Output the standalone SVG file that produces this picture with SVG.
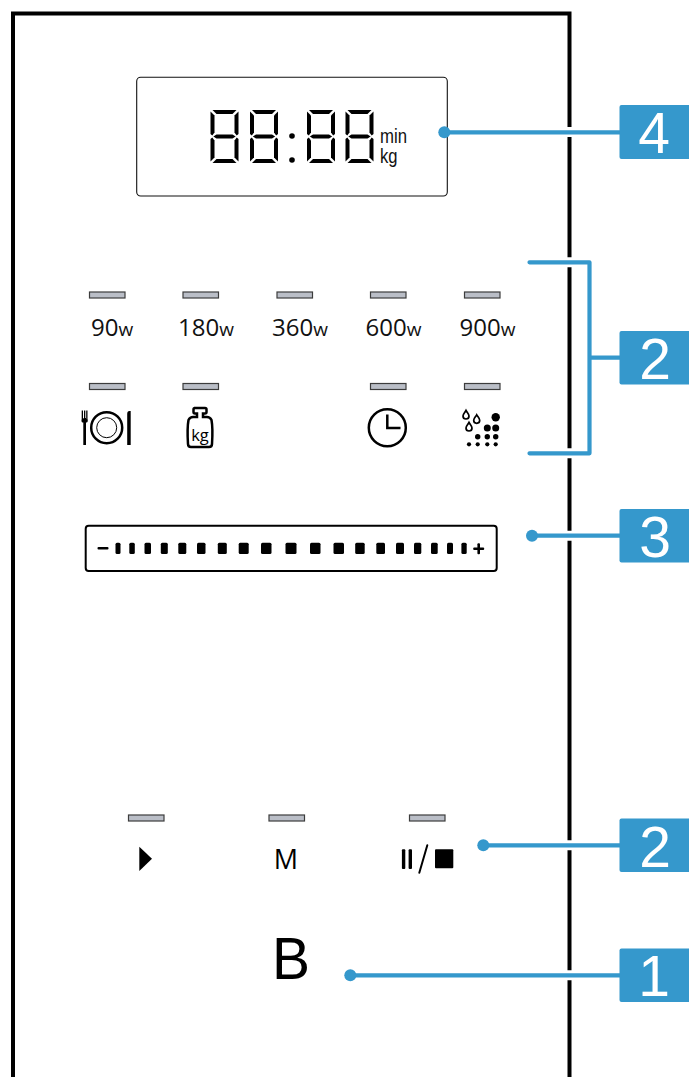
<svg xmlns="http://www.w3.org/2000/svg" width="689" height="1077" viewBox="0 0 689 1077">
<style>
.led{fill:#babec7;stroke:#3c3c3c;stroke-width:1.2}
.lab{font-family:"Open Sans",sans-serif;font-size:24px;fill:#111}
.w{font-size:19px}
.blue{fill:none;stroke:#3598cc;stroke-width:4.2;stroke-linecap:round;stroke-linejoin:round}
.halo{fill:none;stroke:#fff;stroke-width:10}
.dot{fill:#3598cc}
.badge{fill:#3598cc}
.num{font-family:"Liberation Sans",Arial,sans-serif;font-size:57px;fill:#fff;text-anchor:middle}
.tick{fill:#000}
.unit{font-family:"Liberation Sans",Arial,sans-serif;font-size:20px;fill:#111}
.ic{fill:none;stroke:#000;stroke-width:2.5}
.drop{fill:none;stroke:#000;stroke-width:1.7}
</style>
<defs>
<g id="seg">
<polygon points="2,0 26,0 22,4 6,4"/>
<polygon points="0,1.500 4,5.500 4,22.500 1.800,25.500 0,24"/>
<polygon points="28,1.500 24,5.500 24,22.500 26.200,25.500 28,24"/>
<polygon points="2.800,26.500 6,24.500 22,24.500 25.200,26.500 22,28.500 6,28.500"/>
<polygon points="0,29 1.800,27.500 4,30.500 4,47.500 0,51.500"/>
<polygon points="28,29 26.200,27.500 24,30.500 24,47.500 28,51.500"/>
<polygon points="6,49 22,49 26,53 2,53"/>
</g>
</defs>
<g id="panel">
<path d="M13 1077V13.500H569.500V1077" fill="none" stroke="#000" stroke-width="4"/>
</g>
<g id="display">
<rect x="136.700" y="77.300" width="310.600" height="118.700" rx="4" fill="#fff" stroke="#111" stroke-width="1.100"/>
<use href="#seg" x="210.500" y="110"/>
<use href="#seg" x="250" y="110"/>
<circle cx="292" cy="136" r="2.800"/>
<circle cx="292" cy="160" r="2.800"/>
<use href="#seg" x="307" y="110"/>
<use href="#seg" x="345.500" y="110"/>
<text class="unit" x="380" y="142.700" textLength="27" lengthAdjust="spacingAndGlyphs">min</text>
<text class="unit" x="380" y="163" textLength="17.500" lengthAdjust="spacingAndGlyphs">kg</text>
</g>
<g id="power-row">
<rect class="led" x="89.500" y="292" width="35.500" height="6"/>
<rect class="led" x="183" y="292" width="35.500" height="6"/>
<rect class="led" x="277" y="292" width="35.500" height="6"/>
<rect class="led" x="370.500" y="292" width="35.500" height="6"/>
<rect class="led" x="464.500" y="292" width="35.500" height="6"/>
<text class="lab" x="91" y="336">90<tspan class="w">w</tspan></text>
<text class="lab" x="178" y="336">180<tspan class="w">w</tspan></text>
<text class="lab" x="272" y="336">360<tspan class="w">w</tspan></text>
<text class="lab" x="365.500" y="336">600<tspan class="w">w</tspan></text>
<text class="lab" x="459.500" y="336">900<tspan class="w">w</tspan></text>
</g>
<g id="function-row">
<rect class="led" x="89.500" y="383.500" width="35.500" height="6"/>
<rect class="led" x="183" y="383.500" width="35.500" height="6"/>
<rect class="led" x="370.500" y="383.500" width="35.500" height="6"/>
<rect class="led" x="464.500" y="383.500" width="35.500" height="6"/>
<g id="icon-plate">
<circle class="ic" cx="106.700" cy="427.700" r="15.500"/>
<circle cx="106.700" cy="427.700" r="10" fill="none" stroke="#000" stroke-width="1"/>
<rect x="83.300" y="418" width="2.700" height="27"/>
<rect x="81.700" y="410.500" width="1.300" height="11"/>
<rect x="84" y="410.500" width="1.300" height="11"/>
<rect x="86.200" y="410.500" width="1.300" height="11"/>
<rect x="81.700" y="419" width="5.800" height="3.500" rx="1"/>
<path d="M127.200 445V414q0-3 2.200-3h1.300v34z"/>
</g>
<g id="icon-weight">
<path class="ic" d="M194 408H205q1.500 0 1.500 1.500v2.500q0 1.500-1.500 1.500h-2v3.500h4q3 0 4.500 3q1.500 8 .5 24q0 3-3 3H191q-3 0-3-3q-1-16 .5-24q1.500-3 4.500-3h4v-3.500h-2q-1.500 0-1.500-1.500v-2.500q0-1.500 1.500-1.500z"/>
<text x="200" y="441" font-family="Open Sans,sans-serif" font-size="16.500" text-anchor="middle" fill="#000">kg</text>
</g>
<g id="icon-clock">
<circle class="ic" cx="387.300" cy="427.700" r="18.500"/>
<path class="ic" d="M387.300 414.500V428H400.500"/>
</g>
<g id="icon-steam">
<path class="drop" d="M466 410.500c-1 2-3 3.500-3 5.500a3 3 0 0 0 6 0c0-2-2-3.500-3-5.500z"/>
<path class="drop" d="M476.700 414.800c-1 2-3 3.500-3 5.500a3 3 0 0 0 6 0c0-2-2-3.500-3-5.500z"/>
<path class="drop" d="M469 422.500c-1 2-3 3.500-3 5.500a3 3 0 0 0 6 0c0-2-2-3.500-3-5.500z"/>
<circle cx="495.700" cy="417.300" r="4.200"/>
<circle cx="487.300" cy="428" r="3.500"/>
<circle cx="495.700" cy="428" r="3.500"/>
<circle cx="477.700" cy="436.700" r="2.700"/>
<circle cx="487.300" cy="436.700" r="2.700"/>
<circle cx="495.700" cy="436.700" r="2.700"/>
<circle cx="469" cy="444.300" r="2.100"/>
<circle cx="477.700" cy="444.300" r="2.100"/>
<circle cx="487.300" cy="444.300" r="2.100"/>
<circle cx="495.700" cy="444.300" r="2.100"/>
</g>
</g>
<g id="slider">
<rect x="85.700" y="525.700" width="411" height="45.300" rx="3" fill="#fff" stroke="#000" stroke-width="2"/>
<rect class="tick" x="97.500" y="547" width="11" height="2.600" rx="1"/>
<rect class="tick" x="115.500" y="542.700" width="5" height="11.300" rx="1.500"/>
<rect class="tick" x="129.300" y="542.700" width="5.500" height="11.300" rx="1.500"/>
<rect class="tick" x="144.500" y="542.700" width="6.500" height="11.300" rx="1.500"/>
<rect class="tick" x="160.800" y="542.700" width="7" height="11.300" rx="1.500"/>
<rect class="tick" x="178.300" y="542.700" width="8" height="11.300" rx="1.500"/>
<rect class="tick" x="197" y="542.700" width="8.500" height="11.300" rx="1.500"/>
<rect class="tick" x="217.800" y="542.700" width="9" height="11.300" rx="1.500"/>
<rect class="tick" x="238.700" y="542.700" width="10" height="11.300" rx="1.500"/>
<rect class="tick" x="261" y="542.700" width="10.500" height="11.300" rx="1.500"/>
<rect class="tick" x="285.500" y="542.700" width="11" height="11.300" rx="1.500"/>
<rect class="tick" x="310" y="542.700" width="10.500" height="11.300" rx="1.500"/>
<rect class="tick" x="333.500" y="542.700" width="10.500" height="11.300" rx="1.500"/>
<rect class="tick" x="355.200" y="542.700" width="9.500" height="11.300" rx="1.500"/>
<rect class="tick" x="376.300" y="542.700" width="8.700" height="11.300" rx="1.500"/>
<rect class="tick" x="396" y="542.700" width="8" height="11.300" rx="1.500"/>
<rect class="tick" x="414" y="542.700" width="7.300" height="11.300" rx="1.500"/>
<rect class="tick" x="431" y="542.700" width="6.700" height="11.300" rx="1.500"/>
<rect class="tick" x="447" y="542.700" width="6" height="11.300" rx="1.500"/>
<rect class="tick" x="461.400" y="542.700" width="5.300" height="11.300" rx="1.500"/>
<rect class="tick" x="473.200" y="547.400" width="11" height="2.600" rx="1"/>
<rect class="tick" x="477.400" y="543.200" width="2.600" height="11" rx="1"/>
</g>
<g id="start-buttons">
<rect class="led" x="128.500" y="815" width="35.500" height="6"/>
<rect class="led" x="269" y="815" width="35.500" height="6"/>
<rect class="led" x="409.500" y="815" width="35.500" height="6"/>
<polygon points="139.300,846.700 152,858.800 139.300,871"/>
<text x="286" y="869" font-family="Open Sans,sans-serif" font-size="27" font-weight="500" text-anchor="middle" fill="#000">M</text>
<rect x="401.900" y="849.300" width="3.400" height="19.700" rx="1"/>
<rect x="408.600" y="849.300" width="3.400" height="19.700" rx="1"/>
<path d="M419.300 872.700L427.300 845.300" stroke="#000" stroke-width="2" stroke-linecap="round"/>
<rect x="435" y="849.300" width="18.300" height="19" rx="1"/>
</g>
<g id="brand">
<text x="272" y="979.300" font-family="Liberation Sans,Arial,sans-serif" font-size="60" fill="#000" textLength="38" lengthAdjust="spacingAndGlyphs">B</text>
</g>
<g id="connectors">
<path class="halo" d="M560 132H580M560 262.300H580M560 453.300H580M560 535.700H580M560 845.300H580M560 975.300H580"/>
<path class="blue" d="M444.300 132.300H620"/>
<path class="blue" d="M529.500 262.300H589.500V453.300H529.500M589.500 357.700H620"/>
<path class="blue" d="M532 535.700H620"/>
<path class="blue" d="M483.300 845.300H620"/>
<path class="blue" d="M350.300 975.300H620"/>
<circle class="dot" cx="444.300" cy="132.300" r="6"/>
<circle class="dot" cx="532" cy="535.700" r="6"/>
<circle class="dot" cx="483.300" cy="845.300" r="6"/>
<circle class="dot" cx="350.300" cy="975.300" r="6"/>
</g>
<g id="badge-4"><rect class="badge" x="619.500" y="105" width="75" height="54" rx="2"/><text class="num" x="654" y="152.700">4</text></g>
<g id="badge-2a"><rect class="badge" x="619.500" y="331" width="75" height="53.500" rx="2"/><text class="num" x="655" y="379.300">2</text></g>
<g id="badge-3"><rect class="badge" x="619.500" y="509" width="75" height="53.500" rx="2"/><text class="num" x="655" y="556.500">3</text></g>
<g id="badge-2b"><rect class="badge" x="619.500" y="818.500" width="75" height="53.500" rx="2"/><text class="num" x="655" y="866.500">2</text></g>
<g id="badge-1"><rect class="badge" x="619.500" y="948.500" width="75" height="53.500" rx="2"/><text class="num" x="654" y="996">1</text></g>
</svg>
